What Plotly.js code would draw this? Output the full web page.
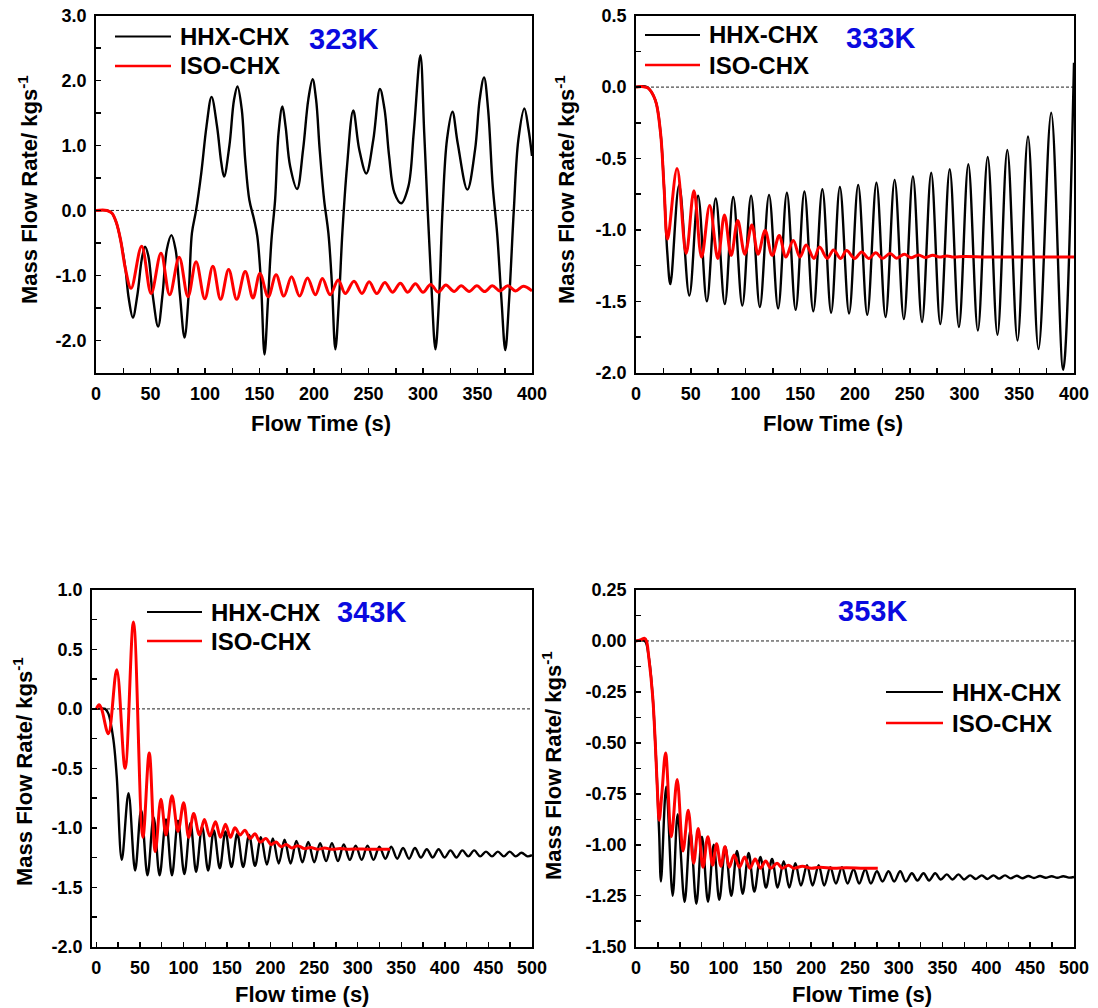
<!DOCTYPE html>
<html>
<head>
<meta charset="utf-8">
<script src="https://cdn.plot.ly/plotly-3.0.1.min.js"></script>
<style>
  html, body { margin: 0; padding: 0; background: #fff; }
  #chart { width: 1098px; height: 1008px; }
</style>
</head>
<body>
<div id="chart"></div>
<script>
// ---------------- DATA ----------------
const seriesNames = ['HHX-CHX', 'ISO-CHX'];
const panelLabels = ['323K', '333K', '343K', '353K'];

// Panel 1 : 323K
const p1_hhx_t = [0, 10, 14.5, 18.5, 22.5, 27, 30, 33.8, 38, 42, 45, 48, 52, 57, 61, 65, 69.2, 73, 77, 81.2, 85, 88, 91.8, 96.6, 101.4, 106, 111, 115, 117.5, 122.4, 126.6, 129.8, 133.7, 136.9, 140.7, 145, 148, 151.4, 154.6, 157.8, 161, 164.3, 167.5, 171, 173.9, 178.1, 184.5, 190, 194.8, 198.7, 201.9, 205.2, 209.3, 213.2, 216.4, 219.6, 222.9, 226, 230.3, 236, 241.5, 248, 254.4, 260.5, 264.7, 268.9, 273.8, 280, 286.6, 291.5, 297.6, 301.1, 304.3, 307.6, 311.4, 314.7, 317.9, 322, 327, 331.8, 340.7, 347.8, 352, 356, 359.7, 364, 368, 372, 375.5, 379, 383.3, 387.5, 393, 396.8, 400];
const p1_hhx_y = [0, 0, -0.04, -0.18, -0.45, -0.9, -1.35, -1.65, -1.3, -0.75, -0.56, -0.7, -1.3, -1.79, -1.3, -0.6, -0.38, -0.6, -1.3, -1.96, -1.3, -0.35, 0, 0.58, 1.3, 1.75, 1.3, 0.73, 0.52, 1.0, 1.7, 1.91, 1.56, 0.78, 0.16, -0.14, -0.4, -1.12, -2.22, -1.38, -0.45, 0.16, 1.2, 1.6, 1.3, 0.68, 0.33, 0.94, 1.71, 2.02, 1.71, 0.94, 0.16, -0.35, -1.12, -2.14, -1.38, -0.35, 0.68, 1.54, 0.94, 0.57, 1.09, 1.87, 1.56, 0.84, 0.27, 0.11, 0.37, 1.2, 2.39, 1.2, 0, -1.12, -2.14, -1.38, 0, 1.09, 1.52, 1.04, 0.32, 0.94, 1.71, 2.05, 1.56, 0.37, -0.35, -1.38, -2.15, -1.38, 0, 1.09, 1.57, 1.25, 0.84];
const p1_iso_t = [0, 10, 14.5, 18.5, 22.5, 27, 32.2, 41.9, 50.6, 59.6, 67.6, 76.3, 84.4, 91.8, 99.8, 107.2, 114.3, 121.7, 129.1, 136.9, 144, 150.4, 158, 165.2, 172.3, 179.4, 186.8, 194, 201.3, 207.7, 214.8, 222.2, 228.7, 236.7, 244, 250.6, 257.6, 265, 272, 279.2, 286, 293, 300, 307, 314, 321, 328.5, 335, 342.3, 349.4, 356.5, 363.6, 370.4, 377.8, 384.9, 392, 400];
const p1_iso_y = [0, 0, -0.04, -0.18, -0.45, -0.9, -1.2, -0.55, -1.28, -0.66, -1.30, -0.72, -1.33, -0.79, -1.36, -0.86, -1.37, -0.91, -1.37, -0.94, -1.35, -0.97, -1.33, -0.99, -1.32, -1.02, -1.32, -1.04, -1.30, -1.05, -1.30, -1.07, -1.28, -1.09, -1.28, -1.10, -1.28, -1.11, -1.26, -1.12, -1.26, -1.13, -1.26, -1.14, -1.26, -1.15, -1.25, -1.16, -1.25, -1.16, -1.25, -1.16, -1.24, -1.16, -1.24, -1.17, -1.24];

// Panel 2 : 333K
const p2_hhx_t = [0, 10, 17.6, 22.4, 25.6, 28.5, 31.4, 39.4, 48.7, 56.7, 64.7, 72.8, 81.1, 88.8, 97.1, 105.1, 113.1, 121.5, 129.8, 137.8, 145.8, 153.8, 161.9, 170.2, 178.2, 186.2, 194.6, 202.9, 211.2, 219.6, 227.9, 236.2, 244.6, 252.9, 261.2, 269.6, 277.9, 286.5, 294.9, 303.5, 312.2, 321.2, 330.1, 339.1, 348.4, 358, 367.6, 379.2, 390.1, 400];
const p2_hhx_y = [0, 0, -0.09, -0.32, -0.7, -1.15, -1.38, -0.685, -1.46, -0.76, -1.50, -0.78, -1.52, -0.77, -1.53, -0.76, -1.54, -0.755, -1.55, -0.74, -1.56, -0.73, -1.57, -0.715, -1.58, -0.70, -1.585, -0.685, -1.595, -0.67, -1.61, -0.65, -1.625, -0.625, -1.645, -0.60, -1.66, -0.575, -1.68, -0.54, -1.705, -0.49, -1.735, -0.44, -1.775, -0.345, -1.835, -0.18, -1.98, 0.17];
const p2_iso_t = [0, 5, 8, 11, 17.6, 22.4, 25.6, 28.8, 37.5, 45.8, 52.9, 59.9, 67.3, 74.7, 80.8, 86.9, 92.9, 99.4, 105.8, 111.5, 117.9, 124.4, 130.8, 136.9, 143.6, 149.7, 155.4, 162.5, 167.6, 174.7, 180.4, 186.9, 192.3, 199.7, 206.1, 212.5, 219, 225, 232, 238, 245, 251, 258, 264, 271, 277, 284, 290, 300, 320, 350, 400];
const p2_iso_y = [0, 0.005, 0, -0.007, -0.09, -0.32, -0.70, -1.065, -0.57, -1.165, -0.725, -1.19, -0.83, -1.20, -0.895, -1.18, -0.935, -1.17, -0.965, -1.17, -1.005, -1.18, -1.04, -1.19, -1.075, -1.19, -1.105, -1.20, -1.12, -1.20, -1.14, -1.20, -1.145, -1.20, -1.155, -1.20, -1.16, -1.20, -1.165, -1.198, -1.17, -1.195, -1.175, -1.193, -1.178, -1.19, -1.182, -1.19, -1.186, -1.19, -1.19, -1.19];

// Panel 3 : 343K
const p3_hhx_t = [0, 10, 13.8, 19.6, 23.4, 29.2, 36.9, 44.5, 51.4, 58.7, 65.7, 72.6, 79.9, 86.8, 93.7, 101, 108, 114.5, 121.4, 128.3, 134.8, 141.7, 148.2, 155.1, 161.7, 168.5, 175.3, 182.1, 188.9, 195.7, 202.5, 209.3, 216, 222.9, 229.6, 236.5, 243.2, 250.1, 256.8, 263.7, 270.4, 277.3, 284, 290.9, 297.6, 304.5, 311.2, 318.1, 324.8, 331.7, 338.4, 345.3, 352, 358.9, 365.6, 372.5, 379.2, 386.1, 392.8, 399.7, 406.4, 413.3, 420, 426.9, 433.6, 440.5, 447.2, 454.1, 460.8, 467.7, 474.4, 481.3, 488, 494.9, 500];
const p3_hhx_y = [0, 0, -0.04, -0.26, -0.57, -1.27, -0.71, -1.36, -0.85, -1.40, -0.91, -1.40, -0.93, -1.40, -0.94, -1.39, -0.96, -1.37, -0.99, -1.36, -1.02, -1.34, -1.03, -1.33, -1.05, -1.33, -1.06, -1.32, -1.08, -1.31, -1.09, -1.30, -1.10, -1.30, -1.11, -1.29, -1.12, -1.29, -1.13, -1.28, -1.13, -1.28, -1.14, -1.27, -1.15, -1.27, -1.15, -1.27, -1.16, -1.26, -1.16, -1.26, -1.17, -1.26, -1.17, -1.25, -1.18, -1.25, -1.18, -1.25, -1.19, -1.25, -1.19, -1.24, -1.19, -1.24, -1.20, -1.24, -1.20, -1.24, -1.20, -1.24, -1.21, -1.24, -1.23];
const p3_iso_t = [0, 3.1, 6, 13.8, 23.4, 33, 42.6, 53.4, 60.7, 67.6, 74.1, 79.9, 86.8, 93.7, 100.2, 106, 111.7, 118.3, 124, 130.2, 136.7, 142.5, 148.2, 154, 159, 165, 170.5, 176.6, 182, 188, 194.6, 200.4, 206.2, 212, 217.7, 224.2, 231, 238.8, 246, 254, 262, 270, 280, 290, 300, 310, 320, 337];
const p3_iso_y = [0, 0.035, 0, -0.21, 0.33, -0.50, 0.73, -1.08, -0.37, -1.20, -0.76, -1.06, -0.73, -1.03, -0.79, -1.08, -0.88, -1.06, -0.93, -1.07, -0.95, -1.08, -0.97, -1.08, -1.0, -1.06, -1.02, -1.09, -1.05, -1.12, -1.09, -1.14, -1.12, -1.16, -1.14, -1.17, -1.15, -1.175, -1.165, -1.18, -1.17, -1.18, -1.175, -1.18, -1.178, -1.18, -1.18, -1.18];

// Panel 4 : 353K
const p4_hhx_t = [0, 10, 14.5, 19, 22, 24.5, 26.5, 28.5, 34.5, 41.9, 47.6, 55.5, 62, 68.9, 75.3, 82.2, 88.7, 95.1, 102, 108.8, 115.3, 121.8, 128.6, 135.1, 142, 148.4, 155.3, 161.7, 168.6, 175, 181.9, 188.3, 195.2, 201.6, 208.5, 214.9, 221.8, 228.2, 235.1, 241.5, 248.4, 254.8, 261.7, 268.1, 275, 281.4, 288.3, 294.7, 301.6, 308, 314.9, 321.3, 328.2, 334.6, 341.5, 347.9, 354.8, 361.2, 368.1, 374.5, 381.4, 387.8, 394.7, 401.1, 408, 414.4, 421.3, 427.7, 434.6, 441, 447.9, 454.3, 461.2, 467.6, 474.5, 480.9, 487.8, 494.2, 500];
const p4_hhx_y = [0, 0, -0.077, -0.27, -0.50, -0.74, -0.95, -1.18, -0.715, -1.25, -0.85, -1.28, -0.93, -1.29, -0.96, -1.28, -1.00, -1.27, -1.01, -1.25, -1.03, -1.24, -1.04, -1.23, -1.06, -1.21, -1.07, -1.21, -1.08, -1.21, -1.09, -1.20, -1.10, -1.20, -1.10, -1.20, -1.11, -1.19, -1.11, -1.19, -1.12, -1.19, -1.12, -1.19, -1.13, -1.18, -1.13, -1.18, -1.13, -1.18, -1.14, -1.175, -1.14, -1.175, -1.14, -1.17, -1.145, -1.17, -1.145, -1.17, -1.15, -1.168, -1.15, -1.168, -1.15, -1.166, -1.15, -1.165, -1.152, -1.164, -1.153, -1.163, -1.153, -1.162, -1.154, -1.162, -1.154, -1.161, -1.158];
const p4_iso_t = [0, 5, 9.9, 12, 14.5, 19, 22, 24.5, 26.5, 29.5, 33.8, 40.3, 47, 53.7, 59.6, 65.8, 71, 76.5, 82, 87.5, 92, 97, 101.5, 106.5, 112, 118, 124, 130, 136, 142, 148, 154, 161, 167, 174, 180, 190, 200, 210, 225, 240, 260, 276];
const p4_iso_y = [0, 0.005, 0.013, 0, -0.077, -0.27, -0.50, -0.74, -0.88, -0.75, -0.55, -0.96, -0.68, -1.03, -0.83, -1.09, -0.92, -1.11, -0.96, -1.10, -0.995, -1.105, -1.01, -1.11, -1.05, -1.11, -1.06, -1.115, -1.07, -1.115, -1.08, -1.115, -1.09, -1.115, -1.10, -1.115, -1.105, -1.115, -1.11, -1.115, -1.113, -1.115, -1.115];

// Axis tick labels (labelled ticks) and unlabelled intermediate ticks
const xTicks400 = [0, 50, 100, 150, 200, 250, 300, 350, 400];
const xLabels400 = ['0', '50', '100', '150', '200', '250', '300', '350', '400'];
const xMinor400 = [25, 75, 125, 175, 225, 275, 325, 375];
const xTicks500 = [0, 50, 100, 150, 200, 250, 300, 350, 400, 450, 500];
const xLabels500 = ['0', '50', '100', '150', '200', '250', '300', '350', '400', '450', '500'];
const xMinor500 = [25, 75, 125, 175, 225, 275, 325, 375, 425, 475];
const y1Ticks = [-2.0, -1.0, 0, 1.0, 2.0, 3.0];
const y1Labels = ['-2.0', '-1.0', '0.0', '1.0', '2.0', '3.0'];
const y1Minor = [-2.5, -1.5, -0.5, 0.5, 1.5, 2.5];
const y2Ticks = [-2.0, -1.5, -1.0, -0.5, 0, 0.5];
const y2Labels = ['-2.0', '-1.5', '-1.0', '-0.5', '0.0', '0.5'];
const y2Minor = [-1.75, -1.25, -0.75, -0.25, 0.25];
const y3Ticks = [-2.0, -1.5, -1.0, -0.5, 0, 0.5, 1.0];
const y3Labels = ['-2.0', '-1.5', '-1.0', '-0.5', '0.0', '0.5', '1.0'];
const y3Minor = [-1.75, -1.25, -0.75, -0.25, 0.25, 0.75];
const y4Ticks = [-1.5, -1.25, -1.0, -0.75, -0.5, -0.25, 0, 0.25];
const y4Labels = ['-1.50', '-1.25', '-1.00', '-0.75', '-0.50', '-0.25', '0.00', '0.25'];
const y4Minor = [-1.375, -1.125, -0.875, -0.625, -0.375, -0.125, 0.125];

// ---------------- STYLE / LAYOUT ----------------
const W = 1098, H = 1008;
const FONT = 'Liberation Sans, Arial, sans-serif';
const BLACK = '#000000', RED = '#ff0000', BLUE = '#0a0adf';
const px = v => v / W;
const py = v => 1 - v / H;

function line(t, y, color, width, axn) {
  return {
    x: t, y: y, type: 'scatter', mode: 'lines',
    line: { color: color, width: width, shape: 'spline', smoothing: 1 },
    xaxis: 'x' + axn, yaxis: 'y' + axn, showlegend: false, hoverinfo: 'skip'
  };
}
const BW = 2.4, RW = 3.0;
const data = [
  line(p1_hhx_t, p1_hhx_y, BLACK, BW, ''), line(p1_iso_t, p1_iso_y, RED, RW, ''),
  line(p2_hhx_t, p2_hhx_y, BLACK, BW, '2'), line(p2_iso_t, p2_iso_y, RED, RW, '2'),
  line(p3_hhx_t, p3_hhx_y, BLACK, BW, '3'), line(p3_iso_t, p3_iso_y, RED, RW, '3'),
  line(p4_hhx_t, p4_hhx_y, BLACK, BW, '4'), line(p4_iso_t, p4_iso_y, RED, RW, '4')
];

const tickFont = { family: FONT, size: 18, color: '#000', weight: 'bold' };
function ax(dom, range, tv, tt, mv, anchor) {
  return {
    domain: dom, range: range, anchor: anchor,
    tickmode: 'array', tickvals: tv, ticktext: tt,
    ticks: 'inside', ticklen: 5, tickwidth: 1.5, tickcolor: '#000',
    minor: { tickmode: 'array', tickvals: mv, ticks: 'inside', ticklen: 5, tickwidth: 1.5, tickcolor: '#000', showgrid: false },
    showline: true, linecolor: '#000', linewidth: 1.8, mirror: true,
    showgrid: false, zeroline: false, tickfont: tickFont, ticklabelstandoff: 4
  };
}

const dxL = [px(96), px(532)], dxL3 = [px(92), px(532)], dxR = [px(636), px(1074)];
const dyT = [py(372.7), py(15.7)], dyB = [py(946.7), py(590)];

const layout = {
  width: W, height: H, margin: { l: 0, r: 0, t: 0, b: 0 },
  paper_bgcolor: '#fff', plot_bgcolor: '#fff', showlegend: false,
  font: { family: FONT, color: '#000' },
  xaxis: ax(dxL, [0, 400], xTicks400, xLabels400, xMinor400, 'y'),
  yaxis: ax(dyT, [-2.5, 3.0], y1Ticks, y1Labels, y1Minor, 'x'),
  xaxis2: ax(dxR, [0, 400], xTicks400, xLabels400, xMinor400, 'y2'),
  yaxis2: ax(dyT, [-2.0, 0.5], y2Ticks, y2Labels, y2Minor, 'x2'),
  xaxis3: ax(dxL3, [-5, 500], xTicks500, xLabels500, xMinor500, 'y3'),
  yaxis3: ax(dyB, [-2.0, 1.0], y3Ticks, y3Labels, y3Minor, 'x3'),
  xaxis4: ax(dxR, [0, 500], xTicks500, xLabels500, xMinor500, 'y4'),
  yaxis4: ax(dyB, [-1.5, 0.25], y4Ticks, y4Labels, y4Minor, 'x4'),
  shapes: [],
  annotations: []
};

// dashed zero lines
['', '2', '3', '4'].forEach(a => {
  layout.shapes.push({
    type: 'line', xref: 'x' + a + ' domain', yref: 'y' + a, x0: 0, x1: 1, y0: 0, y1: 0,
    line: { color: '#222', width: 1, dash: '3px,2px' }, layer: 'below'
  });
});

// legends (line sample + text), panel labels
const legendPos = [
  { x0: 115, x1: 171, y1: 36.5, y2: 66, tx: 178, k: [343, 39] },
  { x0: 645, x1: 700, y1: 35, y2: 65, tx: 707, k: [880, 38] },
  { x0: 147, x1: 202, y1: 612, y2: 641, tx: 209, k: [371, 612] },
  { x0: 886, x1: 943, y1: 692, y2: 723, tx: 950, k: [872, 611] }
];
const legFont = { family: FONT, size: 24, color: '#000', weight: 'bold' };
legendPos.forEach((L, i) => {
  layout.shapes.push({ type: 'line', xref: 'paper', yref: 'paper', x0: px(L.x0), x1: px(L.x1), y0: py(L.y1), y1: py(L.y1), line: { color: BLACK, width: 2 } });
  layout.shapes.push({ type: 'line', xref: 'paper', yref: 'paper', x0: px(L.x0), x1: px(L.x1), y0: py(L.y2), y1: py(L.y2), line: { color: RED, width: 2.5 } });
  layout.annotations.push({ xref: 'paper', yref: 'paper', x: px(L.tx), y: py(L.y1), xanchor: 'left', yanchor: 'middle', text: seriesNames[0], showarrow: false, font: legFont });
  layout.annotations.push({ xref: 'paper', yref: 'paper', x: px(L.tx), y: py(L.y2), xanchor: 'left', yanchor: 'middle', text: seriesNames[1], showarrow: false, font: legFont });
  layout.annotations.push({ xref: 'paper', yref: 'paper', x: px(L.k[0]), y: py(L.k[1]), xanchor: 'center', yanchor: 'middle', text: panelLabels[i], showarrow: false, font: { family: FONT, size: 29, color: BLUE, weight: 'bold' } });
});

// axis titles
const titleFont = { family: FONT, size: 22, color: '#000', weight: 'bold' };
const yTitle = 'Mass Flow Rate/ kgs<sup>-1</sup>';
[[28, 190], [565, 190], [23, 772], [552, 766]].forEach(p => {
  layout.annotations.push({ xref: 'paper', yref: 'paper', x: px(p[0]), y: py(p[1]), xanchor: 'center', yanchor: 'middle', textangle: -90, text: yTitle, showarrow: false, font: titleFont });
});
[[321, 423, 'Flow Time (s)'], [833, 423, 'Flow Time (s)'], [302, 994, 'Flow time (s)'], [862, 994, 'Flow Time (s)']].forEach(p => {
  layout.annotations.push({ xref: 'paper', yref: 'paper', x: px(p[0]), y: py(p[1]), xanchor: 'center', yanchor: 'middle', text: p[2], showarrow: false, font: titleFont });
});

Plotly.newPlot('chart', data, layout, { staticPlot: true, displayModeBar: false });
</script>
</body>
</html>
